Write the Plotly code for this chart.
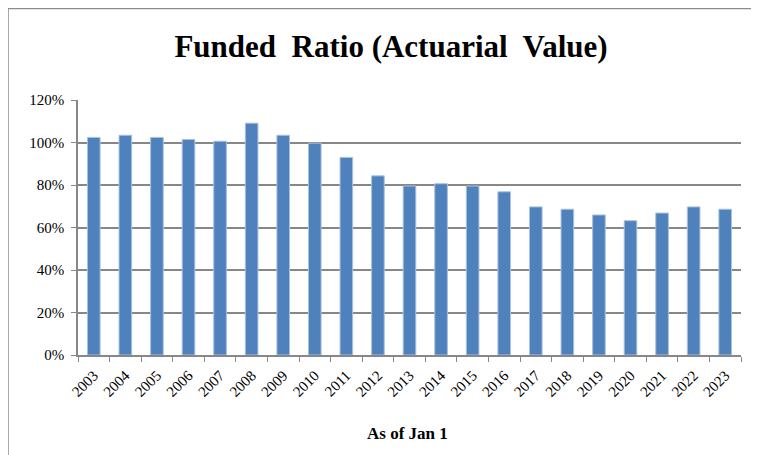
import plotly.graph_objects as go

# Data
years = [str(y) for y in range(2003, 2024)]
funded_ratio = [102.4, 103.4, 102.4, 101.4, 100.6, 109.1, 103.4, 99.7, 93.0, 84.3,
                79.5, 80.6, 79.5, 76.8, 69.7, 68.6, 65.9, 63.2, 66.8, 69.7, 68.6]
y_ticks = [0, 20, 40, 60, 80, 100, 120]
y_tick_labels = ["0%", "20%", "40%", "60%", "80%", "100%", "120%"]

serif = "Liberation Serif"
grid_c = "#878787"

fig = go.Figure(go.Bar(
    x=years,
    y=funded_ratio,
    marker=dict(color="#4F81BD", line=dict(color="#A9C1DF", width=1)),
    hoverinfo="x+y",
))

# page body has an 8px margin, so the figure is 8px smaller each way
fig.update_layout(
    width=751, height=447,
    paper_bgcolor="white", plot_bgcolor="white",
    margin=dict(l=70, r=18, t=92, b=100),
    bargap=0.6,
    showlegend=False,
    font=dict(family=serif, size=14, color="black"),
    title=dict(
        text="<b>Funded&nbsp; Ratio (Actuarial&nbsp; Value)</b>",
        font=dict(family=serif, size=31, color="black"),
        x=0.51, xanchor="center", xref="container",
        y=0.915, yanchor="middle", yref="container",
    ),
)

fig.update_yaxes(
    range=[0, 120], tickvals=y_ticks, ticktext=y_tick_labels,
    showgrid=True, gridcolor=grid_c, gridwidth=1.6,
    showline=True, linecolor=grid_c, linewidth=1.6,
    ticks="outside", ticklen=5, tickcolor=grid_c,
    ticklabelstandoff=4,
    zeroline=False, fixedrange=True,
    tickfont=dict(family=serif, size=15),
)

fig.update_xaxes(
    tickangle=-45, tickfont=dict(family=serif, size=15),
    showline=True, linecolor=grid_c, linewidth=1.6,
    ticks="outside", ticklen=5, tickcolor=grid_c, tickson="boundaries",
    ticklabelstandoff=4,
    showgrid=False, fixedrange=True,
)

# x-axis title as annotation for exact placement
fig.add_annotation(
    text="<b>As of Jan 1</b>", xref="paper", yref="paper",
    x=0.497, y=-0.307, showarrow=False,
    font=dict(family=serif, size=17, color="black"),
    xanchor="center", yanchor="middle",
)

# chart-area border like the spreadsheet frame
fig.add_shape(
    type="rect", xref="paper", yref="paper",
    x0=-0.1056, x1=1.0166, y0=-0.6, y1=1.3586,
    line=dict(color="#8C8C8C", width=1.5), layer="below",
)

fig.write_html("out.html")
